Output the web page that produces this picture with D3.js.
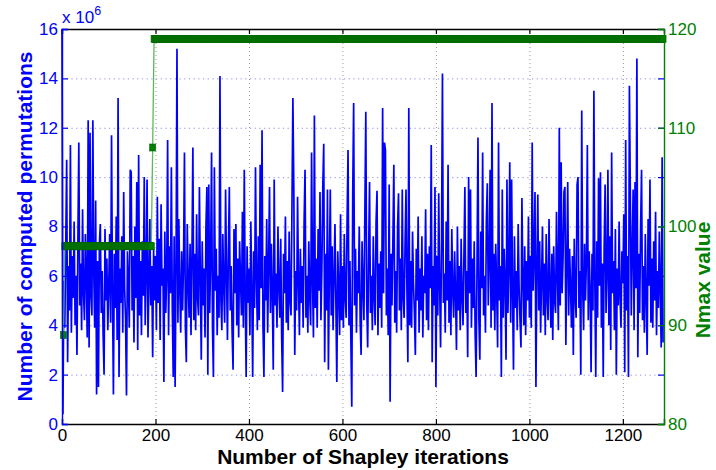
<!DOCTYPE html>
<html>
<head>
<meta charset="utf-8">
<script src="https://cdn.jsdelivr.net/npm/d3@7"></script>
<style>
  body { margin: 0; background: #fff; }
  text { font-family: "Liberation Sans", Arial, Helvetica, sans-serif; }
</style>
</head>
<body>
<div id="container"></div>
<script>
// computed permutations (x 10^6), one value read every 2 Shapley iterations
const iterStep = 2;
const permutations = [
  16.0, 0.4, 5.8, 3.9, 7.2, 10.7, 2.5, 6.4, 4.6, 11.3, 3.7, 6.8, 5.1, 8.2, 4.0, 6.0, 2.8, 7.4, 11.4, 4.8,
  6.5, 3.8, 8.7, 5.4, 4.2, 7.7, 5.9, 3.5, 12.3, 3.1, 11.8, 5.2, 4.4, 12.3, 6.1, 3.9, 9.05, 1.2, 6.6, 1.5,
  7.3, 8.1, 4.5, 6.2, 3.6, 2.0, 7.9, 5.0, 6.7, 3.8, 5.6, 7.7, 4.1, 11.7, 5.3, 1.2, 6.9, 4.7, 8.4, 3.4,
  13.2, 1.9, 6.3, 4.9, 7.6, 3.7, 9.4, 5.5, 4.2, 1.15, 7.0, 5.8, 3.9, 10.3, 10.2, 4.6, 6.8, 3.3, 8.0, 5.1,
  9.8, 3.0, 10.9, 4.4, 6.6, 3.6, 7.4, 5.2, 10.0, 4.0, 6.1, 9.9, 3.5, 5.7, 8.3, 4.8, 6.4, 2.7, 7.1, 5.0,
  6.8, 3.8, 9.2, 4.9, 7.5, 3.4, 8.9, 5.6, 6.3, 1.7, 7.8, 4.5, 6.0, 11.5, 3.6, 7.2, 5.3, 10.4, 4.7, 1.9,
  7.6, 1.5, 6.2, 15.2, 4.1, 8.3, 5.5, 3.7, 7.0, 4.6, 6.5, 11.0, 3.9, 2.5, 8.1, 5.8, 4.3, 7.3, 3.6, 6.7,
  11.2, 4.2, 6.9, 3.8, 8.5, 5.1, 4.4, 9.6, 5.9, 2.6, 7.4, 4.8, 6.3, 3.5, 8.0, 9.6, 2.0, 9.7, 4.5, 6.6,
  11.0, 3.9, 1.9, 10.4, 5.4, 7.1, 3.6, 6.0, 4.3, 14.1, 5.0, 3.8, 7.7, 5.6, 4.1, 9.5, 6.2, 3.4, 7.0, 9.6,
  4.6, 6.4, 3.7, 2.2, 7.9, 5.3, 8.1, 4.0, 6.7, 3.5, 7.4, 5.8, 4.4, 8.6, 3.9, 10.3, 5.1, 1.9, 7.2, 4.9,
  6.3, 3.6, 8.2, 5.4, 1.9, 7.0, 4.7, 10.4, 5.9, 3.8, 7.6, 4.2, 10.5, 5.5, 11.9, 4.0, 1.9, 6.8, 5.0, 8.3,
  3.7, 6.5, 9.6, 4.5, 7.3, 5.2, 2.2, 9.9, 4.8, 6.1, 3.9, 8.0, 5.6, 4.3, 7.5, 3.5, 1.3, 6.9, 5.3, 8.4,
  4.1, 6.6, 3.8, 7.8, 5.0, 4.4, 8.8, 13.2, 9.5, 2.8, 6.2, 4.6, 9.2, 5.7, 3.6, 7.1, 4.9, 6.4, 3.9, 8.2,
  10.3, 4.3, 6.0, 3.7, 7.4, 5.2, 4.0, 11.0, 5.8, 3.5, 12.5, 4.7, 6.7, 3.9, 7.9, 5.4, 9.4, 4.2, 6.3, 9.6,
  11.35, 2.5, 6.9, 4.6, 9.5, 2.2, 6.1, 9.5, 4.4, 7.2, 3.8, 5.9, 8.1, 4.9, 1.7, 7.0, 5.5, 3.6, 8.5, 4.2,
  6.4, 3.9, 7.7, 5.1, 4.3, 8.3, 11.1, 4.0, 6.6, 3.5, 0.7, 9.3, 13.0, 4.8, 7.1, 3.7, 6.2, 5.3, 8.0, 4.1,
  2.8, 7.4, 5.6, 4.2, 8.6, 12.65, 4.9, 3.1, 6.8, 9.8, 4.5, 6.0, 3.8, 7.6, 5.2, 4.0, 8.2, 9.45, 3.6, 6.5,
  4.7, 7.0, 3.9, 12.8, 5.3, 11.4, 11.1, 4.4, 6.3, 3.6, 9.7, 0.9, 6.9, 4.8, 7.5, 10.5, 4.1, 6.2, 3.7, 8.0,
  9.35, 4.6, 6.7, 3.8, 9.5, 5.1, 4.3, 7.3, 9.5, 5.4, 2.5, 12.8, 4.0, 6.6, 3.9, 7.8, 5.7, 4.5, 2.8, 7.1,
  5.0, 8.4, 3.7, 6.3, 4.6, 7.6, 3.5, 6.0, 5.3, 8.7, 4.2, 6.9, 3.8, 7.2, 5.5, 11.3, 2.5, 6.4, 4.8, 9.6,
  1.5, 6.8, 4.4, 9.35, 5.6, 3.1, 7.3, 14.2, 4.9, 6.1, 3.7, 8.2, 5.0, 10.5, 4.1, 6.6, 3.6, 7.9, 5.4, 4.3,
  7.0, 5.2, 3.0, 8.0, 4.6, 6.4, 3.8, 7.5, 5.1, 4.0, 6.9, 9.6, 4.5, 6.2, 2.7, 10.0, 5.3, 9.5, 3.9, 6.7,
  4.7, 7.4, 3.6, 1.9, 6.5, 11.6, 4.2, 2.6, 7.8, 5.5, 11.0, 4.4, 6.0, 3.7, 8.3, 9.75, 4.8, 6.6, 10.3, 3.9,
  13.0, 4.6, 6.9, 3.8, 7.3, 5.4, 3.1, 11.4, 5.0, 6.4, 1.9, 9.5, 4.3, 7.1, 5.7, 2.6, 9.9, 4.5, 6.3, 10.6,
  4.1, 9.9, 5.2, 2.2, 7.6, 4.7, 6.2, 3.8, 8.1, 5.5, 4.2, 3.1, 9.15, 5.9, 4.0, 7.2, 3.6, 6.6, 5.0, 8.4,
  4.3, 6.8, 3.9, 11.4, 5.4, 7.0, 9.4, 1.5, 6.3, 9.3, 4.6, 7.4, 3.7, 5.8, 8.0, 4.4, 6.5, 3.6, 7.7, 5.1,
  4.2, 8.3, 5.6, 3.9, 6.9, 3.4, 7.2, 5.0, 4.5, 8.6, 6.1, 3.8, 12.0, 4.8, 10.6, 5.3, 6.7, 9.4, 9.6, 3.2,
  6.4, 9.8, 4.4, 7.1, 5.6, 3.9, 6.8, 2.8, 7.5, 5.2, 4.3, 9.7, 10.0, 4.7, 6.2, 2.0, 12.7, 5.5, 3.8, 7.3,
  5.0, 6.6, 11.3, 4.2, 7.0, 5.4, 2.1, 6.9, 4.6, 13.5, 5.8, 1.9, 7.4, 4.3, 9.95, 5.6, 10.2, 3.9, 6.5, 1.9,
  7.2, 9.7, 4.5, 6.1, 10.3, 4.0, 7.6, 3.0, 11.0, 5.3, 6.6, 3.8, 7.9, 2.0, 6.3, 4.8, 8.2, 5.1, 3.9, 7.0,
  5.7, 8.5, 2.1, 11.5, 4.6, 6.8, 1.9, 13.7, 9.2, 4.4, 7.1, 9.5, 3.8, 9.8, 5.5, 14.8, 2.7, 6.9, 4.5, 8.0,
  10.3, 4.2, 6.4, 3.7, 7.7, 5.2, 2.8, 8.3, 5.6, 9.9, 4.1, 6.7, 3.9, 7.4, 5.0, 8.6, 3.6, 6.2, 4.7, 7.8,
  5.4, 3.1, 10.8, 3.3
];

// Nmax value, held constant over runs of iterations
const nmaxFrom  = [3, 6, 194, 197];
const nmaxTo    = [3, 191, 194, 1286];
const nmaxValue = [89, 98, 108, 119];

const xTicks = [0, 200, 400, 600, 800, 1000, 1200];
const leftTicks = [0, 2, 4, 6, 8, 10, 12, 14, 16];
const rightTicks = [80, 90, 100, 110, 120];

const width = 716;
const height = 470;
const margin = { top: 29, right: 52, bottom: 46, left: 62 };
const blue = "#0000ff";
const green = "#008000";

const xScale = d3.scaleLinear()
  .domain([0, 1288])
  .range([margin.left, width - margin.right]);

const yLeft = d3.scaleLinear()
  .domain([0, 16])
  .range([height - margin.bottom, margin.top]);

const yRight = d3.scaleLinear()
  .domain([80, 120])
  .range([height - margin.bottom, margin.top]);

const svg = d3.select("#container")
  .append("svg")
  .attr("width", width)
  .attr("height", height);

// grid lines
svg.append("g")
  .attr("transform", `translate(${margin.left},0)`)
  .call(d3.axisLeft(yLeft).tickValues(leftTicks.slice(1, -1)).tickSize(-(width - margin.left - margin.right)).tickFormat(""))
  .call(g => g.select(".domain").remove())
  .call(g => g.selectAll("line").attr("stroke", "#8c8cf0").attr("stroke-dasharray", "1.2,3.5").attr("stroke-width", 1));

svg.append("g")
  .attr("transform", `translate(0,${height - margin.bottom})`)
  .call(d3.axisBottom(xScale).tickValues(xTicks.slice(1)).tickSize(-(height - margin.top - margin.bottom)).tickFormat(""))
  .call(g => g.select(".domain").remove())
  .call(g => g.selectAll("line").attr("stroke", "#9a9a9a").attr("stroke-dasharray", "1,3").attr("stroke-width", 1));

// blue series
const line = d3.line()
  .x((d, i) => xScale(i * iterStep))
  .y(d => yLeft(d));

svg.append("path")
  .datum(permutations)
  .attr("fill", "none")
  .attr("stroke", blue)
  .attr("stroke-width", 1.7)
  .attr("stroke-linejoin", "miter")
  .attr("d", line);

// green step series
const nmaxLinePts = [];
const nmaxMarks = [];
nmaxValue.forEach((v, k) => {
  nmaxLinePts.push([nmaxFrom[k], v], [nmaxTo[k], v]);
  for (let it = nmaxFrom[k]; it <= nmaxTo[k]; it += iterStep) nmaxMarks.push([it, v]);
  if ((nmaxTo[k] - nmaxFrom[k]) % iterStep !== 0) nmaxMarks.push([nmaxTo[k], v]);
});

svg.append("path")
  .datum(nmaxLinePts)
  .attr("fill", "none")
  .attr("stroke", "#5cb85c")
  .attr("stroke-width", 1.3)
  .attr("d", d3.line().x(d => xScale(d[0])).y(d => yRight(d[1])));

svg.append("g")
  .selectAll("rect")
  .data(nmaxMarks)
  .join("rect")
  .attr("x", d => xScale(d[0]) - 3)
  .attr("y", d => yRight(d[1]) - 3.5)
  .attr("width", 6)
  .attr("height", 7)
  .attr("fill", green)
  .attr("stroke", "#006400")
  .attr("stroke-width", 0.6);

// axes
const fontSize = "17px";

svg.append("g")
  .attr("transform", `translate(0,${height - margin.bottom})`)
  .call(d3.axisBottom(xScale).tickValues(xTicks).tickFormat(d3.format("d")).tickSize(-5).tickPadding(5))
  .call(g => g.select(".domain").attr("stroke", "#000").attr("stroke-width", 1.4))
  .call(g => g.selectAll("line").attr("stroke", "#000").attr("stroke-width", 1.2))
  .call(g => g.selectAll("text").attr("fill", "#000").style("font-size", fontSize));

svg.append("g")
  .attr("transform", `translate(0,${margin.top})`)
  .call(d3.axisTop(xScale).tickValues(xTicks).tickSize(-5).tickFormat(""))
  .call(g => g.select(".domain").attr("stroke", "#000").attr("stroke-width", 1.4))
  .call(g => g.selectAll("line").attr("stroke", "#000").attr("stroke-width", 1.2));

svg.append("g")
  .attr("transform", `translate(${margin.left},0)`)
  .call(d3.axisLeft(yLeft).tickValues(leftTicks).tickSize(-6).tickPadding(4))
  .call(g => g.select(".domain").attr("stroke", blue).attr("stroke-width", 1.4))
  .call(g => g.selectAll("line").attr("stroke", blue).attr("stroke-width", 1.2))
  .call(g => g.selectAll("text").attr("fill", blue).style("font-size", fontSize));

// mirrored left ticks on the right edge
svg.append("g")
  .attr("transform", `translate(${width - margin.right},0)`)
  .call(d3.axisRight(yLeft).tickValues(leftTicks).tickSize(-6).tickFormat(""))
  .call(g => g.select(".domain").remove())
  .call(g => g.selectAll("line").attr("stroke", blue).attr("stroke-width", 1.2));

svg.append("g")
  .attr("transform", `translate(${width - margin.right},0)`)
  .call(d3.axisRight(yRight).tickValues(rightTicks).tickSize(-6).tickPadding(4))
  .call(g => g.select(".domain").attr("stroke", green).attr("stroke-width", 1.4))
  .call(g => g.selectAll("line").attr("stroke", green).attr("stroke-width", 1.2))
  .call(g => g.selectAll("text").attr("fill", green).style("font-size", fontSize));

// exponent label
const expo = svg.append("text")
  .attr("x", margin.left)
  .attr("y", 23)
  .attr("fill", blue)
  .style("font-size", "17px");
expo.append("tspan").text("x 10");
expo.append("tspan").attr("dy", -8).style("font-size", "12.5px").text("6");

// axis titles
svg.append("text")
  .attr("x", (margin.left + width - margin.right) / 2)
  .attr("y", 464)
  .attr("text-anchor", "middle")
  .attr("fill", "#000")
  .style("font-size", "21px")
  .style("font-weight", "bold")
  .text("Number of Shapley iterations");

svg.append("text")
  .attr("transform", `translate(32,${(margin.top + height - margin.bottom) / 2}) rotate(-90)`)
  .attr("text-anchor", "middle")
  .attr("fill", blue)
  .style("font-size", "21px")
  .style("font-weight", "bold")
  .text("Number of computed permutations");

svg.append("text")
  .attr("transform", `translate(710,280) rotate(-90)`)
  .attr("text-anchor", "middle")
  .attr("fill", green)
  .style("font-size", "21px")
  .style("font-weight", "bold")
  .text("Nmax value");
</script>
</body>
</html>
